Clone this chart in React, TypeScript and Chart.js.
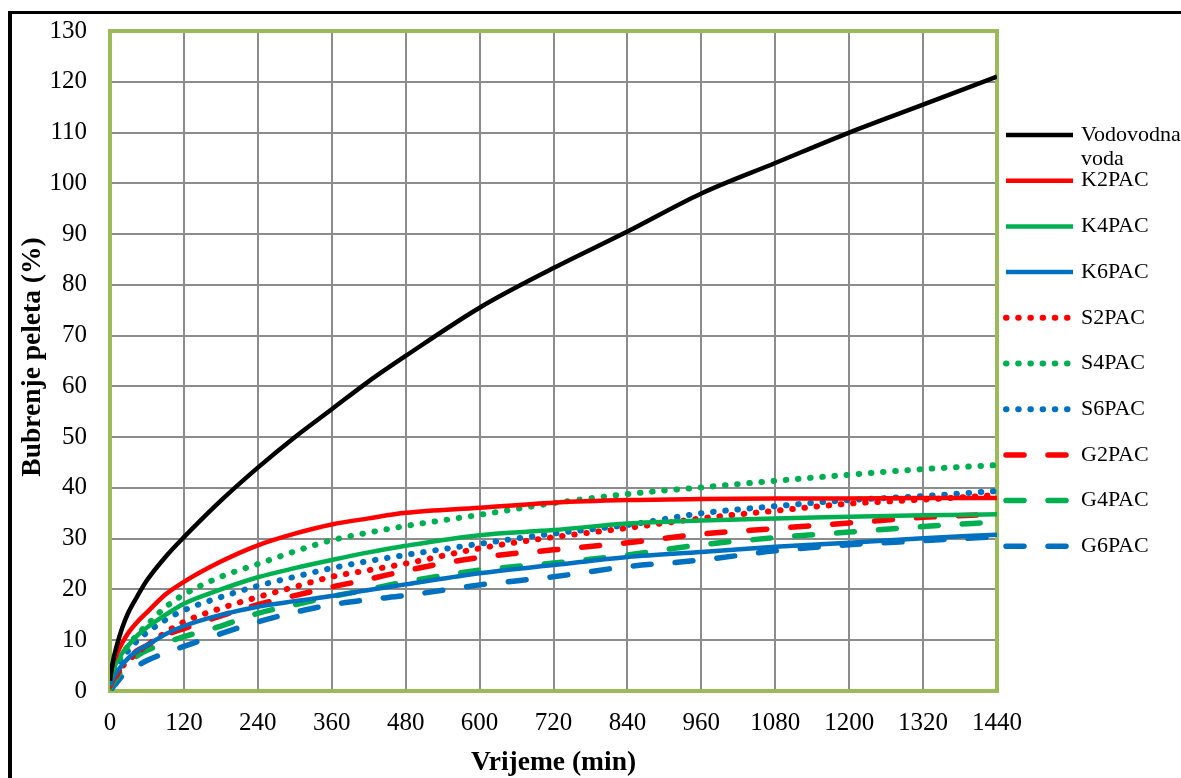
import React, { useEffect, useRef } from 'react';
import { Chart, registerables } from 'chart.js';

Chart.register(...registerables);

// ---- data ----
const timeMin = [0, 5, 10, 20, 30, 45, 60, 90, 120, 180, 240, 300, 360, 420, 480, 600, 720, 840, 960, 1080, 1200, 1320, 1440];

const vodovodnaVoda = [2, 6, 8.5, 12.5, 15.5, 18.8, 21.8, 26.4, 30.3, 37.5, 44, 50, 55.5, 61, 66, 75.5, 83.3, 90.5, 98, 104, 110, 115.5, 121];
const k2pac = [3, 5.5, 7, 9.5, 11.5, 13.7, 15.5, 19, 21.5, 25.5, 28.7, 31, 32.8, 34, 35.1, 36.1, 37.1, 37.6, 37.8, 37.9, 37.9, 38, 38];
const k4pac = [2, 4, 5.5, 7.5, 9, 11, 12.5, 15, 17.2, 20, 22.4, 24.2, 25.8, 27.3, 28.6, 30.7, 31.7, 33, 33.6, 34, 34.3, 34.6, 34.8];
const k6pac = [1, 2.5, 3.5, 5.2, 6.5, 8, 9, 11.2, 12.8, 15, 16.6, 17.7, 18.7, 19.9, 21, 23.2, 24.8, 26.4, 27.4, 28.4, 29.2, 30.1, 30.8];
const s2pac = [1, 2, 3, 4.8, 6, 7.7, 9, 11.5, 13.6, 16.3, 18.5, 20.5, 22.5, 23.8, 25.1, 28.1, 30.3, 32.1, 34, 35.5, 36.9, 37.7, 38.6];
const s4pac = [2, 3.8, 5, 7.3, 9, 11.2, 13, 16.5, 19, 22.5, 25, 27.5, 29.7, 31.2, 32.5, 34.7, 37, 38.8, 40.1, 41.4, 42.6, 43.7, 44.5];
const s6pac = [1.5, 3.2, 4.5, 6.5, 8, 10, 11.5, 14, 15.9, 18.5, 20.7, 22.5, 24.2, 25.6, 26.8, 29, 31, 32.7, 35, 36.4, 37.6, 38.4, 39.4];
const g2pac = [1, 2.2, 3, 5, 6.5, 8, 9, 11, 12.3, 14.8, 17, 18.8, 20.5, 22, 23.7, 26.3, 27.8, 29.2, 30.9, 32, 33.1, 34.2, 34.8];
const g4pac = [0.5, 1.7, 2.5, 4.2, 5.5, 7, 8, 9.5, 10.7, 12.8, 15.3, 17, 18.6, 20, 21.5, 23.8, 25.2, 26.8, 28.8, 30.2, 31.3, 32.4, 33.3];
const g6pac = [0, 0.8, 1.5, 3, 4, 5, 6, 7.5, 8.8, 11.3, 13.6, 15.5, 17, 18, 18.8, 20.9, 22.5, 24.5, 25.8, 27.6, 28.8, 29.6, 30.4];

const seriesNames = ['Vodovodna voda', 'K2PAC', 'K4PAC', 'K6PAC', 'S2PAC', 'S4PAC', 'S6PAC', 'G2PAC', 'G4PAC', 'G6PAC'];
const seriesValues = [vodovodnaVoda, k2pac, k4pac, k6pac, s2pac, s4pac, s6pac, g2pac, g4pac, g6pac];
const seriesColors = ['#000000', '#FF0000', '#00B050', '#0070C0', '#FF0000', '#00B050', '#0070C0', '#FF0000', '#00B050', '#0070C0'];
const seriesStyles = ['solid', 'solid', 'solid', 'solid', 'dot', 'dot', 'dot', 'dash', 'dash', 'dash'];

const xTickStep = 120;
const xMax = 1440;
const yTickStep = 10;
const yMax = 130;

const xTitle = 'Vrijeme (min)';
const yTitle = 'Bubrenje peleta (%)';

const SERIF = '"Liberation Serif", "Times New Roman", serif';

// target plot-area box
const AREA = { left: 110, top: 31, right: 997, bottom: 691 };

function dashFor(style: string): number[] {
  if (style === 'dot') return [0.5, 11.7];
  if (style === 'dash') return [18, 24];
  return [];
}

function widthFor(style: string): number {
  if (style === 'dot') return 6;
  if (style === 'dash') return 5.5;
  return 4.5;
}

const decorPlugin = {
  id: 'decor',
  beforeDraw(chart: any) {
    const ctx = chart.ctx;
    ctx.save();
    ctx.fillStyle = '#ffffff';
    ctx.fillRect(0, 0, chart.width, chart.height);
    ctx.fillStyle = '#000000';
    ctx.fillRect(8, 11, 4, chart.height - 11);
    ctx.fillRect(8, 11, chart.width - 8, 3);
    ctx.restore();
  },
  beforeDatasetsDraw(chart: any) {
    const { ctx, chartArea } = chart;
    ctx.save();
    ctx.strokeStyle = '#9BBB59';
    ctx.lineWidth = 4;
    ctx.strokeRect(chartArea.left, chartArea.top, chartArea.right - chartArea.left, chartArea.bottom - chartArea.top);
    ctx.restore();
  },
  afterDraw(chart: any) {
    const { ctx, chartArea } = chart;
    ctx.save();
    // axis titles
    ctx.fillStyle = '#000';
    ctx.font = `bold 27.5px ${SERIF}`;
    ctx.textAlign = 'center';
    ctx.textBaseline = 'middle';
    ctx.fillText(xTitle, (chartArea.left + chartArea.right) / 2, 763);
    ctx.save();
    ctx.translate(33, 357);
    ctx.rotate(-Math.PI / 2);
    ctx.fillText(yTitle, 0, 0);
    ctx.restore();

    // legend
    const lx0 = 1006;
    const lx1 = 1073;
    const tx = 1081;
    const top = 135;
    const gap = 45.7;
    ctx.font = `22px ${SERIF}`;
    ctx.textAlign = 'left';
    chart.data.datasets.forEach((ds: any, i: number) => {
      const y = top + gap * i;
      ctx.save();
      ctx.strokeStyle = ds.borderColor;
      ctx.lineWidth = ds.borderWidth;
      ctx.lineCap = ds.borderCapStyle;
      ctx.setLineDash(ds.borderDash);
      ctx.beginPath();
      ctx.moveTo(lx0, y);
      ctx.lineTo(lx1, y);
      ctx.stroke();
      ctx.restore();
      ctx.fillStyle = '#000';
      const words = String(ds.label).split(' ');
      if (words.length > 1) {
        ctx.fillText(words[0], tx, y);
        ctx.fillText(words.slice(1).join(' '), tx, y + 24);
      } else {
        ctx.fillText(ds.label, tx, y);
      }
    });
    ctx.restore();
  },
};

export default function App() {
  const ref = useRef<HTMLCanvasElement>(null);
  useEffect(() => {
    const canvas = ref.current;
    if (!canvas) return;
    const datasets = seriesNames.map((name, i) => ({
      label: name,
      data: timeMin.map((t, j) => ({ x: t, y: seriesValues[i][j] })),
      borderColor: seriesColors[i],
      backgroundColor: seriesColors[i],
      borderWidth: widthFor(seriesStyles[i]),
      borderDash: dashFor(seriesStyles[i]),
      borderCapStyle: seriesStyles[i] === 'solid' ? 'butt' : 'round',
      pointRadius: 0,
      cubicInterpolationMode: 'monotone',
      fill: false,
    }));
    const padding = { left: 0, top: AREA.top, right: 1181 - AREA.right, bottom: 0 };
    const chart = new Chart(canvas, {
      type: 'line',
      data: { datasets } as any,
      options: {
        responsive: false,
        animation: false,
        devicePixelRatio: 1,
        layout: { padding },
        plugins: { legend: { display: false }, tooltip: { enabled: false } },
        scales: {
          x: {
            type: 'linear',
            min: 0,
            max: xMax,
            afterFit: (s: any) => { s.height = 778 - AREA.bottom; },
            ticks: {
              stepSize: xTickStep,
              color: '#000',
              font: { family: SERIF, size: 25 },
              padding: 17,
              maxRotation: 0,
              autoSkip: false,
              callback: (v: any) => String(v),
            },
            grid: { color: '#8c8c8c', lineWidth: 2, drawTicks: false },
            border: { display: false },
          },
          y: {
            type: 'linear',
            min: 0,
            max: yMax,
            afterFit: (s: any) => { s.width = AREA.left; },
            ticks: {
              stepSize: yTickStep,
              color: '#000',
              font: { family: SERIF, size: 25, lineHeight: 0.3 },
              padding: 23,
              callback: (v: any) => String(v),
            },
            grid: { color: '#8c8c8c', lineWidth: 2, drawTicks: false },
            border: { display: false },
          },
        },
      } as any,
      plugins: [decorPlugin],
    });
    return () => chart.destroy();
  }, []);
  return (
    <div style={{ position: 'absolute', left: 0, top: 0, width: 1181, height: 778 }}>
      <canvas ref={ref} width={1181} height={778} style={{ display: 'block' }} />
    </div>
  );
}
